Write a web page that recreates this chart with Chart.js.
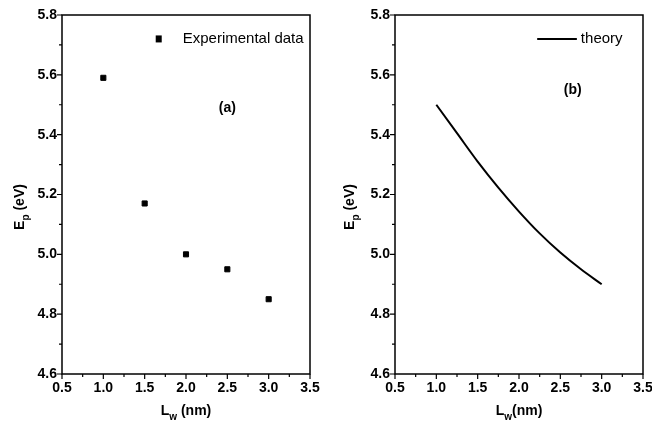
<!DOCTYPE html>
<html>
<head>
<meta charset="utf-8">
<script src="https://cdn.jsdelivr.net/npm/chart.js@4"></script>
<style>
  html, body { margin: 0; padding: 0; background: #fff; }
  #wrap { position: relative; width: 652px; height: 432px; }
  canvas { position: absolute; top: 0; }
</style>
</head>
<body>
<div id="wrap">
  <canvas id="left" width="326" height="432" style="left:0"></canvas>
  <canvas id="right" width="326" height="432" style="left:326px"></canvas>
</div>
<script>
// axis ticks
const xTicks = [0.5, 1.0, 1.5, 2.0, 2.5, 3.0, 3.5];
const xMinor = [0.75, 1.25, 1.75, 2.25, 2.75, 3.25];
const yTicks = [4.6, 4.8, 5.0, 5.2, 5.4, 5.6, 5.8];
const yMinor = [4.7, 4.9, 5.1, 5.3, 5.5, 5.7];

// (a) experimental points
const expLw = [1.0, 1.5, 2.0, 2.5, 3.0];
const expEp = [5.59, 5.17, 5.00, 4.95, 4.85];

// (b) theory curve
const theoryLw = [1.0, 1.25, 1.5, 1.75, 2.0, 2.25, 2.5, 2.75, 3.0];
const theoryEp = [5.50, 5.405, 5.31, 5.223, 5.143, 5.07, 5.006, 4.95, 4.90];

const FONT = "'Liberation Sans', Arial, sans-serif";

// draws text with a subscript piece, centred on (x, y)
function subText(ctx, main, sub, rest, x, y, rot) {
  const big = "bold 14px " + FONT, small = "bold 10px " + FONT;
  ctx.save();
  ctx.translate(x, y);
  if (rot) ctx.rotate(-Math.PI / 2);
  ctx.textBaseline = "middle";
  ctx.textAlign = "left";
  ctx.font = big;
  const w1 = ctx.measureText(main).width, w3 = ctx.measureText(rest).width;
  ctx.font = small;
  const w2 = ctx.measureText(sub).width;
  let cx = -(w1 + w2 + w3) / 2;
  ctx.fillStyle = "#000";
  ctx.font = big;
  ctx.fillText(main, cx, 0);
  cx += w1;
  ctx.font = small;
  ctx.fillText(sub, cx, 6);
  cx += w2;
  ctx.font = big;
  ctx.fillText(rest, cx, 0);
  ctx.restore();
}

const framePlugin = {
  id: "frame",
  afterDraw(chart, args, o) {
    const ctx = chart.ctx, a = chart.chartArea;
    const xs = chart.scales.x, ys = chart.scales.y;
    ctx.save();
    ctx.strokeStyle = "#000";
    ctx.lineWidth = 1.5;
    ctx.strokeRect(a.left, a.top, a.right - a.left, a.bottom - a.top);
    ctx.lineWidth = 1.2;
    ctx.beginPath();
    xTicks.forEach(v => { const p = xs.getPixelForValue(v); ctx.moveTo(p, a.bottom); ctx.lineTo(p, a.bottom + 5); });
    xMinor.forEach(v => { const p = xs.getPixelForValue(v); ctx.moveTo(p, a.bottom); ctx.lineTo(p, a.bottom + 3); });
    yTicks.forEach(v => { const p = ys.getPixelForValue(v); ctx.moveTo(a.left, p); ctx.lineTo(a.left - 5, p); });
    yMinor.forEach(v => { const p = ys.getPixelForValue(v); ctx.moveTo(a.left, p); ctx.lineTo(a.left - 3, p); });
    ctx.stroke();

    // axis titles
    subText(ctx, "L", "w", o.xRest, (a.left + a.right) / 2, 411, false);
    subText(ctx, "E", "p", " (eV)", o.yTitleX, 207, true);

    // panel label
    ctx.fillStyle = "#000";
    ctx.font = "bold 14px " + FONT;
    ctx.textAlign = "center";
    ctx.textBaseline = "middle";
    ctx.fillText(o.panel, xs.getPixelForValue(o.panelAt[0]), ys.getPixelForValue(o.panelAt[1]));

    // legend
    const ds = chart.data.datasets[0];
    const ly = ys.getPixelForValue(o.legendY);
    ctx.font = "15px " + FONT;
    ctx.textAlign = "left";
    if (o.legendLine) {
      const x0 = xs.getPixelForValue(o.legendX[0]), x1 = xs.getPixelForValue(o.legendX[1]);
      ctx.strokeStyle = ds.borderColor;
      ctx.lineWidth = ds.borderWidth;
      ctx.beginPath();
      ctx.moveTo(x0, ly);
      ctx.lineTo(x1, ly);
      ctx.stroke();
      ctx.fillText(ds.label, x1 + 4, ly);
    } else {
      const x0 = xs.getPixelForValue(o.legendX[0]);
      ctx.fillRect(x0 - 3, ly - 3.5, 6, 7);
      ctx.fillText(ds.label, x0 + 24, ly);
    }
    ctx.restore();
  }
};

function makeOptions(axisWidth, padRight, frameOpts) {
  return {
    responsive: false,
    animation: false,
    layout: { padding: { top: 15, right: padRight, left: 0, bottom: 0 } },
    plugins: { legend: { display: false }, tooltip: { enabled: false }, frame: frameOpts },
    scales: {
      x: {
        type: "linear",
        min: 0.5,
        max: 3.5,
        afterBuildTicks: s => { s.ticks = xTicks.map(v => ({ value: v })); },
        afterFit: s => { s.height = 58; s.paddingLeft = 0; s.paddingRight = 0; },
        ticks: {
          padding: 6,
          color: "#000",
          font: { family: FONT, size: 14, weight: "bold" },
          callback: v => v.toFixed(1)
        },
        grid: { display: false, drawTicks: false },
        border: { display: false }
      },
      y: {
        type: "linear",
        min: 4.6,
        max: 5.8,
        afterBuildTicks: s => { s.ticks = yTicks.map(v => ({ value: v })); },
        afterFit: s => { s.width = axisWidth; s.paddingTop = 0; s.paddingBottom = 0; },
        ticks: {
          padding: 5,
          color: "#000",
          font: { family: FONT, size: 14, weight: "bold" },
          callback: v => v.toFixed(1)
        },
        grid: { display: false, drawTicks: false },
        border: { display: false }
      }
    }
  };
}

new Chart(document.getElementById("left"), {
  type: "scatter",
  data: {
    datasets: [{
      label: "Experimental data",
      data: expLw.map((x, i) => ({ x: x, y: expEp[i] })),
      pointStyle: "rect",
      pointRadius: 3.6,
      backgroundColor: "#000",
      borderColor: "#000",
      borderWidth: 1
    }]
  },
  options: makeOptions(62, 16, {
    xRest: " (nm)", yTitleX: 20, panel: "(a)", panelAt: [2.5, 5.49],
    legendX: [1.67], legendY: 5.72, legendLine: false
  }),
  plugins: [framePlugin]
});

new Chart(document.getElementById("right"), {
  type: "line",
  data: {
    datasets: [{
      label: "theory",
      data: theoryLw.map((x, i) => ({ x: x, y: theoryEp[i] })),
      borderColor: "#000",
      borderWidth: 2,
      pointRadius: 0,
      fill: false,
      cubicInterpolationMode: "monotone"
    }]
  },
  options: makeOptions(69, 9, {
    xRest: "(nm)", yTitleX: 24, panel: "(b)", panelAt: [2.65, 5.55],
    legendX: [2.22, 2.70], legendY: 5.72, legendLine: true
  }),
  plugins: [framePlugin]
});
</script>
</body>
</html>
